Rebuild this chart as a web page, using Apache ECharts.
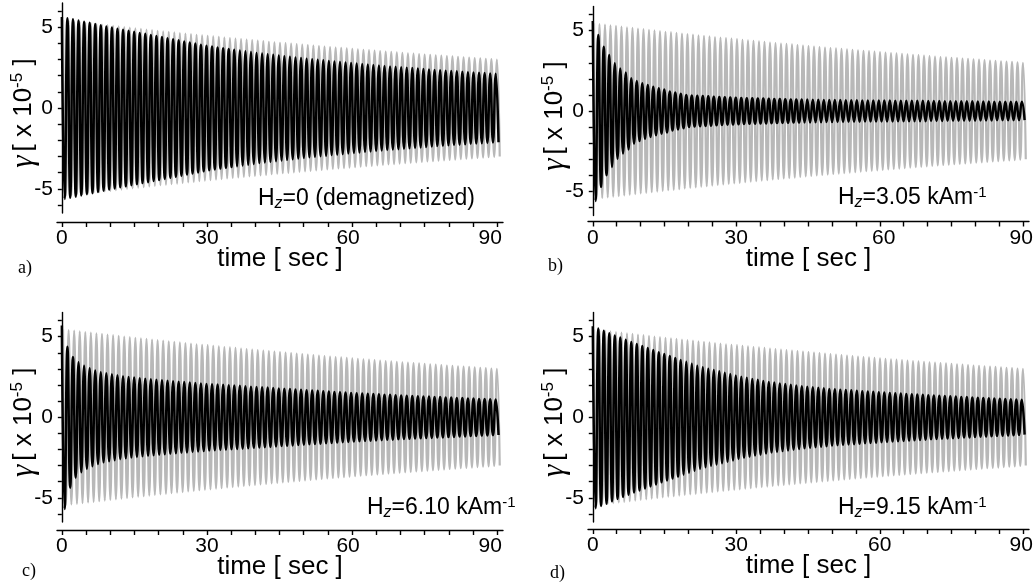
<!DOCTYPE html>
<html><head><meta charset="utf-8">
<script src="https://cdn.jsdelivr.net/npm/echarts@6/dist/echarts.min.js"></script>
<style>html,body{margin:0;padding:0;background:#fff}#c{width:1035px;height:586px}</style>
</head><body><div id="c"></div>
<script>
// ---- data ----
const PERIOD = 1.15;        // oscillation period [s]
const GRAY_PHASE = 0.25;    // time of first reference (gray) peak [s]
const BLACK_PHASE = 0.0;    // time of first measured (black) peak [s]

// peak amplitude of every cycle, reference (gray) curve, same in all panels
const grayPeaks = [
  5.45,5.41,5.37,5.33,5.29,5.25,5.21,5.17,5.13,5.09,
  5.05,5.01,4.97,4.93,4.90,4.86,4.82,4.78,4.75,4.71,
  4.68,4.64,4.60,4.57,4.53,4.50,4.47,4.43,4.40,4.36,
  4.33,4.30,4.26,4.23,4.20,4.17,4.14,4.10,4.07,4.04,
  4.01,3.98,3.95,3.92,3.89,3.86,3.83,3.80,3.77,3.74,
  3.72,3.69,3.66,3.63,3.60,3.58,3.55,3.52,3.49,3.47,
  3.44,3.41,3.39,3.36,3.34,3.31,3.29,3.26,3.24,3.21,
  3.19,3.16,3.14,3.12,3.09,3.07,3.05,3.02,3.00
];
// a) Hz = 0 (demagnetized)
const blackA = [
  5.63,5.56,5.49,5.41,5.34,5.27,5.20,5.12,5.05,4.98,
  4.91,4.85,4.78,4.72,4.65,4.59,4.52,4.46,4.39,4.32,
  4.26,4.19,4.12,4.06,3.99,3.92,3.86,3.80,3.75,3.70,
  3.66,3.61,3.56,3.51,3.46,3.41,3.37,3.33,3.29,3.25,
  3.21,3.17,3.13,3.09,3.05,3.02,2.98,2.95,2.91,2.88,
  2.85,2.81,2.78,2.75,2.72,2.69,2.66,2.63,2.60,2.57,
  2.55,2.52,2.49,2.47,2.44,2.42,2.39,2.36,2.34,2.31,
  2.29,2.27,2.25,2.22,2.20,2.18,2.16,2.14,2.12
];
// b) Hz = 3.05 kA/m
const blackB = [
  5.60,4.73,4.00,3.48,2.97,2.65,2.39,2.03,1.87,1.73,
  1.62,1.51,1.41,1.33,1.22,1.15,1.07,1.00,0.97,0.95,
  0.93,0.91,0.89,0.87,0.85,0.84,0.83,0.81,0.80,0.79,
  0.78,0.77,0.76,0.75,0.74,0.73,0.72,0.72,0.71,0.71,
  0.70,0.70,0.69,0.69,0.68,0.68,0.67,0.67,0.67,0.66,
  0.66,0.66,0.65,0.65,0.65,0.64,0.64,0.64,0.63,0.63,
  0.63,0.62,0.62,0.62,0.61,0.61,0.61,0.60,0.60,0.60,
  0.59,0.59,0.59,0.58,0.58,0.58,0.57,0.57,0.57
];
// c) Hz = 6.10 kA/m
const blackC = [
  5.70,4.37,3.74,3.42,3.20,3.04,2.90,2.80,2.73,2.67,
  2.60,2.55,2.50,2.46,2.42,2.39,2.36,2.33,2.30,2.27,
  2.24,2.21,2.18,2.15,2.12,2.10,2.07,2.05,2.03,2.01,
  1.99,1.97,1.95,1.92,1.90,1.88,1.86,1.84,1.81,1.79,
  1.77,1.75,1.72,1.70,1.68,1.66,1.64,1.62,1.60,1.57,
  1.55,1.53,1.51,1.49,1.47,1.46,1.44,1.42,1.40,1.39,
  1.37,1.35,1.34,1.32,1.31,1.29,1.28,1.26,1.25,1.23,
  1.22,1.20,1.19,1.17,1.16,1.14,1.13,1.11,1.10
];
// d) Hz = 9.15 kA/m
const blackD = [
  5.65,5.50,5.36,5.22,5.08,4.95,4.81,4.67,4.54,4.42,
  4.29,4.17,4.04,3.92,3.80,3.68,3.56,3.44,3.32,3.20,
  3.10,3.01,2.93,2.85,2.76,2.68,2.59,2.52,2.45,2.38,
  2.32,2.25,2.19,2.15,2.10,2.06,2.01,1.97,1.93,1.90,
  1.86,1.83,1.80,1.76,1.73,1.71,1.69,1.67,1.65,1.62,
  1.60,1.58,1.55,1.53,1.51,1.49,1.47,1.45,1.43,1.41,
  1.39,1.37,1.35,1.33,1.32,1.30,1.28,1.26,1.25,1.23,
  1.21,1.20,1.18,1.16,1.15,1.13,1.12,1.10,1.08
];

const xTicks = [0,5,10,15,20,25,30,35,40,45,50,55,60,65,70,75,80,85,90];
const xLabels = [0,30,60,90];
const yTicks = [-6,-5,-4,-3,-2,-1,0,1,2,3,4,5,6];
const yLabels = [-5,0,5];
const xName = 'time [ sec ]';
const yName = '{g|γ}{t|[ x 10}{s|-5}{t| ]}';
const notes = [
  '{h|H}{z|z}{h|=0 (demagnetized)}',
  '{h|H}{z|z}{h|=3.05 kAm}{s|-1}',
  '{h|H}{z|z}{h|=6.10 kAm}{s|-1}',
  '{h|H}{z|z}{h|=9.15 kAm}{s|-1}'
];
const tags = ['a)','b)','c)','d)'];
const blacks = [blackA, blackB, blackC, blackD];

// ---- layout ----
const layout = [
  {grid:{left:57, top:3,     width:446, height:210},   off:9, note:[258,199], tag:[18,268], shift:{60:8,90:14}},
  {grid:{left:588,top:6.5,   width:441, height:209},   off:6, note:[838,198], tag:[548,266], shift:{60:-8,90:4}},
  {grid:{left:57, top:312.5, width:446, height:209.5}, off:8, note:[367,508], tag:[22,571], shift:{60:8,90:14}},
  {grid:{left:588,top:312.5, width:441, height:209.5}, off:7, note:[838,508], tag:[550,573], shift:{60:0,90:4}}
];
const SANS = 'Liberation Sans';

function wave(peaks, phase) {
  const pts = [];
  for (let k = 0; k < peaks.length; k++) {
    const t = phase + k * PERIOD;
    pts.push([t, peaks[k]]);
    pts.push([t + PERIOD / 2, -peaks[k]]);
  }
  return pts;
}

function labelRich(shift) {
  const r = {};
  xLabels.forEach(v => {
    const s = shift[v] || 0;
    r['p' + v] = {fontSize:21, fontFamily:SANS, color:'#000',
      padding: s >= 0 ? [0, s, 0, 0] : [0, 0, 0, -s]};
  });
  return r;
}

const grids = [], xAxes = [], yAxes = [], series = [], graphics = [];
layout.forEach((L, i) => {
  grids.push(Object.assign({outerBoundsMode:'none', containLabel:false}, L.grid));
  xAxes.push({
    type:'value', gridIndex:i, min:-1, max:91.2, offset:L.off,
    axisLine:{onZero:false, lineStyle:{color:'#000', width:1.4}},
    axisTick:{customValues:xTicks, length:5, lineStyle:{color:'#000', width:1.4}},
    axisLabel:{customValues:xLabels, fontSize:21, color:'#000', fontFamily:SANS, margin:6,
      formatter: v => '{p' + v + '|' + v + '}', rich: labelRich(L.shift)},
    splitLine:{show:false},
    name:xName, nameLocation:'middle', nameGap:24, nameMoveOverlap:false,
    nameTextStyle:{fontSize:26, color:'#000', fontFamily:SANS}
  });
  yAxes.push({
    type:'value', gridIndex:i, min:-6.5, max:6.5,
    axisLine:{onZero:true, lineStyle:{color:'#000', width:1.4}},
    axisTick:{customValues:yTicks, length:4, lineStyle:{color:'#000', width:1.4}},
    axisLabel:{customValues:yLabels, fontSize:21, color:'#000', fontFamily:SANS, margin:4},
    splitLine:{show:false},
    name:yName, nameLocation:'middle', nameGap:18, nameMoveOverlap:false,
    nameTextStyle:{color:'#000', padding:[0,10,0,0], rich:{
      g:{fontFamily:'Liberation Serif', fontStyle:'italic', fontSize:31, color:'#000', padding:[0,4,0,0]},
      t:{fontFamily:SANS, fontSize:26, color:'#000'},
      s:{fontFamily:SANS, fontSize:17, color:'#000', padding:[0,0,12,0]}
    }}
  });
  series.push({
    type:'line', xAxisIndex:i, yAxisIndex:i, data:wave(grayPeaks, GRAY_PHASE),
    smooth:true, symbol:'none', silent:true, z:2,
    lineStyle:{color:'#b8b8b8', width:2.2}
  });
  series.push({
    type:'line', xAxisIndex:i, yAxisIndex:i, data:wave(blacks[i], BLACK_PHASE),
    smooth:true, symbol:'none', silent:true, z:3,
    lineStyle:{color:'#000', width:2.5}
  });
  graphics.push({
    type:'text', x:L.note[0], y:L.note[1], z:10,
    style:{text:notes[i], align:'left', verticalAlign:'middle', fill:'#000', rich:{
      h:{fontFamily:SANS, fontSize:23, fill:'#000'},
      z:{fontFamily:SANS, fontSize:16, fontStyle:'italic', fill:'#000', padding:[10,0,0,0]},
      s:{fontFamily:SANS, fontSize:15, fill:'#000', padding:[0,0,10,0]}
    }}
  });
  graphics.push({
    type:'text', x:L.tag[0], y:L.tag[1], z:10,
    style:{text:tags[i], align:'left', verticalAlign:'middle', fill:'#000',
      font:'18px "Liberation Serif"'}
  });
});

const chart = echarts.init(document.getElementById('c'), null, {renderer:'canvas'});
chart.setOption({
  animation:false,
  backgroundColor:'#fff',
  grid:grids, xAxis:xAxes, yAxis:yAxes, series:series, graphic:graphics
});
</script></body></html>
